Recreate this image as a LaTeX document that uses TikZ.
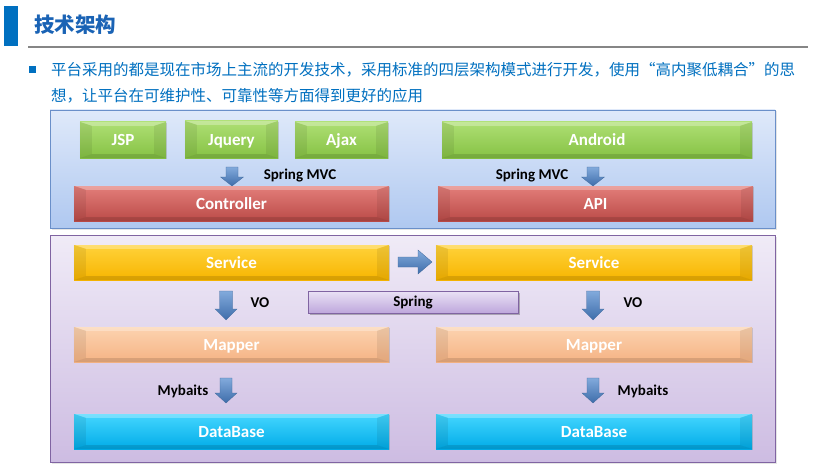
\documentclass[tikz,border=0pt]{standalone}
\usepackage{fontspec}
\setmainfont{Carlito}
\newfontfamily\cjk{Noto Sans CJK SC}
\usetikzlibrary{fit,shadows}
\definecolor{ppblue}{HTML}{0070C0}
\definecolor{titleblue}{HTML}{1A63B5}
\definecolor{panelAtop}{HTML}{DFE9FA}
\definecolor{panelAbot}{HTML}{AFC8F0}
\definecolor{panelAedge}{HTML}{6A8FC9}
\definecolor{panelBtop}{HTML}{F0EBF7}
\definecolor{panelBbot}{HTML}{CDBCE2}
\definecolor{panelBedge}{HTML}{8064A2}
\definecolor{sprT}{HTML}{EAE2F5}\definecolor{sprB}{HTML}{BEA7DC}
\definecolor{grnT}{HTML}{AEDF74}\definecolor{grnB}{HTML}{86C244}
\definecolor{redT}{HTML}{E37E7A}\definecolor{redB}{HTML}{BB4B48}
\definecolor{ylwT}{HTML}{FFD23A}\definecolor{ylwB}{HTML}{F7B500}
\definecolor{orgT}{HTML}{FCD3B0}\definecolor{orgB}{HTML}{F5B384}
\definecolor{cyaT}{HTML}{45D6FF}\definecolor{cyaB}{HTML}{00ACE8}
\definecolor{arrT}{HTML}{82AADC}\definecolor{arrB}{HTML}{3E6DAA}
\definecolor{arrE}{HTML}{41699C}
\tikzset{
  x=1pt, y=-1pt,
  boxbase/.style={inner sep=0pt,
    drop shadow={opacity=0.3, shadow xshift=1.2pt, shadow yshift=-1.2pt}},
  boxtext/.style={inner sep=0pt, anchor=base, text=white, font=\bfseries\fontsize{17}{19}\selectfont},
  lbl/.style={font=\bfseries\fontsize{15}{17}\selectfont, text=black, inner sep=0pt, anchor=base},
  blockarrow/.style={top color=arrT, bottom color=arrB, draw=arrE, line width=0.3pt},
  panel/.style={line width=0.8pt, inner sep=0pt,
    drop shadow={opacity=0.2, shadow xshift=1.5pt, shadow yshift=-1.5pt}},
}
\newcommand\bevbox[8]{%
  \node[boxbase, fit={(#2,#3)(#4,#5)}, top color=#6, bottom color=#7] (#1) {};
  \fill[white, opacity=0.28] (#1.north west) -- (#1.north east) -- ([shift={(-12,4)}]#1.north east) -- ([shift={(12,4)}]#1.north west) -- cycle;
  \fill[black, opacity=0.12] (#1.south west) -- (#1.south east) -- ([shift={(-12,-4)}]#1.south east) -- ([shift={(12,-4)}]#1.south west) -- cycle;
  \fill[black, opacity=0.07] (#1.north west) -- ([shift={(12,4)}]#1.north west) -- ([shift={(12,-4)}]#1.south west) -- (#1.south west) -- cycle;
  \fill[black, opacity=0.07] (#1.north east) -- ([shift={(-12,4)}]#1.north east) -- ([shift={(-12,-4)}]#1.south east) -- (#1.south east) -- cycle;
  \node[boxtext] (#1-t) at ([yshift=-5.6pt]#1.center) {#8};
}
% down block arrow: xc, ytop, ybot, shaft, head, headlen
\newcommand\downblk[6]{%
  \draw[blockarrow] ({#1-#4/2},#2) -- ({#1+#4/2},#2) -- ({#1+#4/2},{#3-#6}) -- ({#1+#5/2},{#3-#6})
    -- (#1,#3) -- ({#1-#5/2},{#3-#6}) -- ({#1-#4/2},{#3-#6}) -- cycle;
}
\begin{document}
\begin{tikzpicture}
\useasboundingbox (0,0) rectangle (832,468);
\fill[white] (0,0) rectangle (832,468);
% header
\fill[ppblue] (4,6) rectangle (18,46);
\node[anchor=west, inner sep=0pt, text=titleblue, font=\cjk\bfseries\fontsize{20.5}{22}\selectfont] (title) at (34,25) {技术架构};
\draw[gray!95, line width=2pt] (28,47) -- (808,47);
\fill[ppblue] (29,66) rectangle (36,73);
\node[anchor=west, inner sep=0pt, text=ppblue, font=\cjk\fontsize{15.5}{17}\selectfont] (line1) at (51,70) {平台采用的都是现在市场上主流的开发技术，采用标准的四层架构模式进行开发，使用“高内聚低耦合”的思};
\node[anchor=west, inner sep=0pt, text=ppblue, font=\cjk\fontsize{15.5}{17}\selectfont] (line2) at (51,96) {想，让平台在可维护性、可靠性等方面得到更好的应用};
% panels
\node[panel, fit={(50,110)(775,228)}, top color=panelAtop, bottom color=panelAbot, draw=panelAedge] (panelA) {};
\node[panel, fit={(50,235)(775,462)}, top color=panelBtop, bottom color=panelBbot, draw=panelBedge] (panelB) {};
% top layer
\bevbox{jsp}{80}{122}{166}{158}{grnT}{grnB}{JSP}
\bevbox{jquery}{185}{121}{278}{158}{grnT}{grnB}{Jquery}
\bevbox{ajax}{295}{122}{388}{158}{grnT}{grnB}{Ajax}
\bevbox{android}{442}{122}{752}{158}{grnT}{grnB}{Android}
\bevbox{controller}{74}{186}{389}{221}{redT}{redB}{Controller}
\bevbox{api}{438}{186}{753}{221}{redT}{redB}{API}
\downblk{232}{167}{186}{12}{23}{9}
\downblk{593}{167}{186}{12}{23}{9}
\node[lbl] (smvcL) at (300,179) {Spring MVC};
\node[lbl] (smvcR) at (532,179) {Spring MVC};
% bottom layer
\bevbox{serviceL}{74}{245}{389}{280}{ylwT}{ylwB}{Service}
\bevbox{serviceR}{436}{245}{752}{280}{ylwT}{ylwB}{Service}
\draw[blockarrow] (398,257) -- (418,257) -- (418,250) -- (432,262) -- (418,274) -- (418,267) -- (398,267) -- cycle;
\fill[black, opacity=0.25] (309.5,292.5) rectangle (519.5,314.8);
\shade[top color=sprT, bottom color=sprB, draw=panelBedge, line width=0.8pt] (308,291) rectangle (518,313);
\node[fit={(308,291)(518,313)}, inner sep=0pt] (spring) {};
\node[lbl] (spring-t) at ([yshift=-4.8pt]spring.center) {Spring};
\downblk{226}{291}{320}{13}{22}{11}
\downblk{593}{291}{320}{13}{22}{11}
\node[lbl] (voL) at (260,307) {VO};
\node[lbl] (voR) at (633,307) {VO};
\bevbox{mapperL}{74}{327}{389}{362}{orgT}{orgB}{Mapper}
\bevbox{mapperR}{436}{327}{752}{362}{orgT}{orgB}{Mapper}
\downblk{226}{378}{403}{12}{22}{10}
\downblk{593}{378}{403}{12}{22}{10}
\node[lbl] (mybL) at (183,395) {Mybaits};
\node[lbl] (mybR) at (643,395) {Mybaits};
\bevbox{dbL}{74}{414}{389}{449}{cyaT}{cyaB}{DataBase}
\bevbox{dbR}{436}{414}{752}{449}{cyaT}{cyaB}{DataBase}
\end{tikzpicture}
\end{document}
